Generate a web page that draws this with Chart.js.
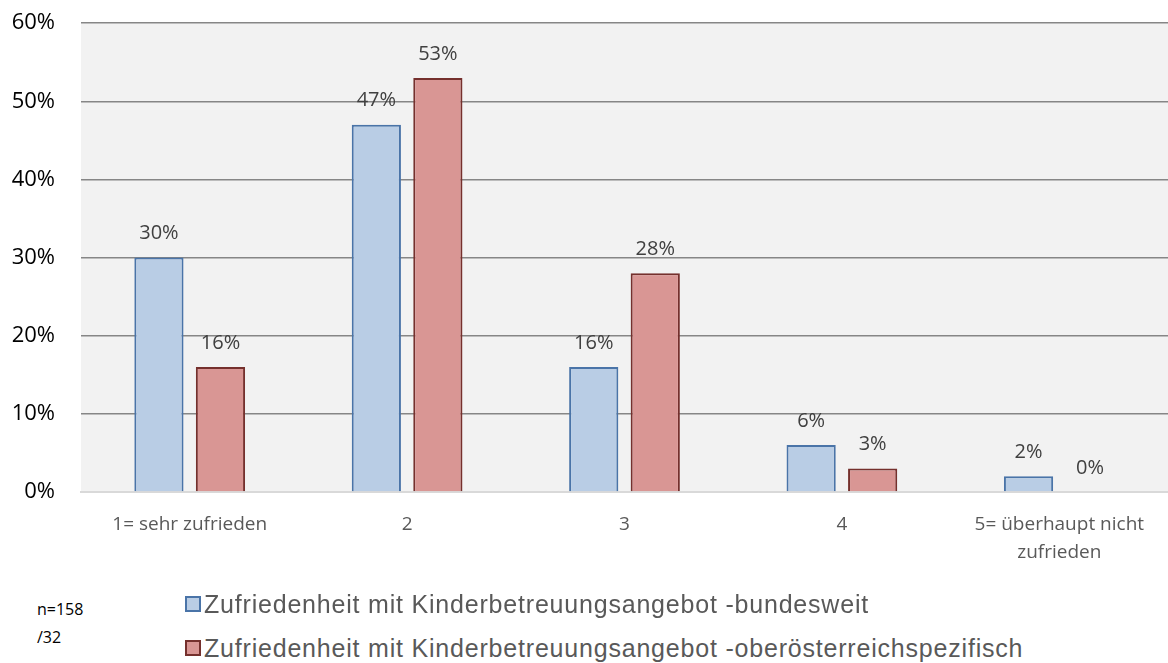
<!DOCTYPE html>
<html>
<head>
<meta charset="utf-8">
<script src="https://cdn.jsdelivr.net/npm/chart.js@4.4.1/dist/chart.umd.min.js"></script>
<style>
  body { margin: 0; background: #fff; width: 1168px; height: 663px; overflow: hidden; position: relative; }
  #wrap { position: absolute; top: -16px; left: 0; width: 1168px; height: 610px; }
  #legend { position: absolute; top: 588px; left: 0; width: 1168px; font-family: "Liberation Sans", Arial, sans-serif; }
  .n { position: absolute; left: 37px; font-family: "Open Sans", sans-serif; font-size: 16px; color: #000; }
  .item { position: absolute; left: 185px; font-size: 25px; letter-spacing: 0.8px; color: #595959; white-space: nowrap; }
  .box { display: inline-block; width: 12px; height: 12px; border: 2px solid; margin-right: 3px; vertical-align: 1px; }
</style>
</head>
<body>
<div id="wrap"><canvas id="chart" width="1168" height="610"></canvas></div>
<div id="legend">
  <div class="n" style="top:10px">n=158</div>
  <div class="n" style="top:38px">/32</div>
  <div class="item" style="top:2px"><span class="box" style="background:#b9cde5;border-color:#4a74a8"></span>Zufriedenheit mit Kinderbetreuungsangebot -bundesweit</div>
  <div class="item" style="top:46px"><span class="box" style="background:#d99694;border-color:#75302d"></span>Zufriedenheit mit Kinderbetreuungsangebot -oberösterreichspezifisch</div>
</div>
<script>
// Kategorien und Werte aus der Vorlage
const kategorien = ['1= sehr zufrieden', '2', '3', '4', ['5= überhaupt nicht', 'zufrieden']]
const bundesweit = [30, 47, 16, 6, 2]
const oberoesterreich = [16, 53, 28, 3, 0]
const yTicks = [0, 10, 20, 30, 40, 50, 60]

// Hintergrund der Zeichenfläche
const plotHintergrund = {
  id: 'plotHintergrund',
  beforeDraw(chart) {
    const { ctx, chartArea } = chart
    ctx.save()
    ctx.fillStyle = '#f2f2f2'
    ctx.fillRect(chartArea.left, chartArea.top, chartArea.right - chartArea.left, chartArea.bottom - chartArea.top)
    ctx.restore()
  }
}

// Prozentwerte über den Balken
const werteBeschriftung = {
  id: 'werteBeschriftung',
  afterDatasetsDraw(chart) {
    const ctx = chart.ctx
    ctx.save()
    ctx.font = '20px "Open Sans", sans-serif'
    ctx.fillStyle = '#404040'
    ctx.textAlign = 'center'
    ctx.textBaseline = 'bottom'
    chart.data.datasets.forEach((ds, i) => {
      chart.getDatasetMeta(i).data.forEach((bar, j) => {
        ctx.fillText(ds.data[j] + '%', bar.x, bar.y - 14)
      })
    })
    ctx.restore()
  }
}

new Chart(document.getElementById('chart'), {
  type: 'bar',
  data: {
    labels: kategorien,
    datasets: [{
      label: 'Zufriedenheit mit Kinderbetreuungsangebot -bundesweit',
      data: bundesweit,
      backgroundColor: '#b9cde5',
      borderColor: '#4a74a8',
      borderWidth: 2,
      borderSkipped: 'bottom'
    },
    {
      label: 'Zufriedenheit mit Kinderbetreuungsangebot -oberösterreichspezifisch',
      data: oberoesterreich,
      backgroundColor: '#d99694',
      borderColor: '#75302d',
      borderWidth: 2,
      borderSkipped: 'bottom'
    }]
  },
  options: {
    responsive: false,
    animation: false,
    categoryPercentage: 0.566,
    barPercentage: 0.8,
    layout: { padding: { top: 0, right: 0, left: 0, bottom: 9 } },
    plugins: {
      legend: { display: false },
      tooltip: { enabled: false }
    },
    scales: {
      x: {
        grid: { display: false, drawTicks: false },
        border: { color: '#d9d9d9', width: 2 },
        ticks: {
          color: '#595959',
          font: { family: 'Open Sans', size: 19, lineHeight: 1.5 },
          padding: 18
        }
      },
      y: {
        min: 0,
        max: 60,
        afterBuildTicks: (scale) => { scale.ticks = yTicks.map(v => ({ value: v })) },
        afterFit: (scale) => { scale.width = 81 },
        grid: { color: (c) => c.tick.value === 0 ? 'rgba(0,0,0,0)' : '#868686', lineWidth: 1.5, drawTicks: false },
        border: { display: false },
        ticks: {
          color: '#000',
          font: { family: 'Open Sans', size: 22 },
          padding: 26,
          callback: (v) => v + '%'
        }
      }
    }
  },
  plugins: [plotHintergrund, werteBeschriftung]
})
</script>
</body>
</html>
